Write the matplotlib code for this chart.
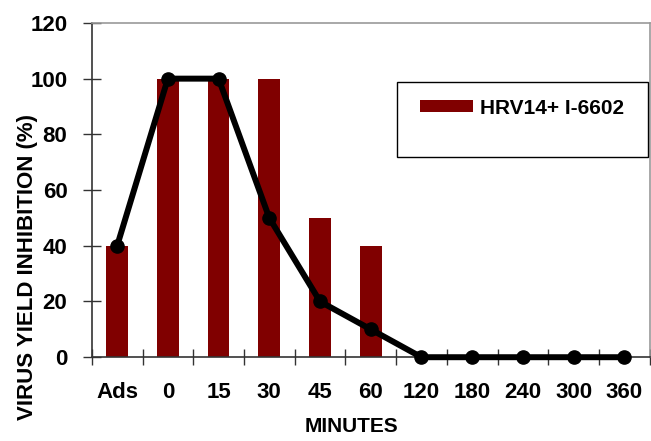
import numpy as np
import matplotlib.pyplot as plt
from matplotlib.patches import Rectangle

plt.rcParams['font.family'] = ['Liberation Sans', 'DejaVu Sans']
plt.rcParams['font.weight'] = 'bold'

minutes = ['Ads', '0', '15', '30', '45', '60', '120', '180', '240', '300', '360']
bar_vals = [40, 100, 100, 100, 50, 40, 0, 0, 0, 0, 0]
line_vals = [40, 100, 100, 50, 20, 10, 0, 0, 0, 0, 0]
y_ticks = [0, 20, 40, 60, 80, 100, 120]

fig = plt.figure(figsize=(6.51, 4.41), dpi=100)
ax = fig.add_axes([0.141, 0.19, 0.857, 0.758])

x = np.arange(len(minutes))
ax.bar(x, bar_vals, width=0.43, color='#800000', label='HRV14+ I-6602', zorder=2)
ax.plot(x, line_vals, color='black', lw=4.3, marker='o', ms=9.5, zorder=3,
        solid_joinstyle='round', clip_on=False)

ax.set_xlim(-0.5, len(minutes) - 0.5)
ax.set_ylim(0, 120)
ax.set_yticks(y_ticks)
ax.set_yticklabels([str(v) for v in y_ticks], fontsize=16, fontweight='bold')
ax.set_xticks(x)
ax.set_xticklabels(minutes, fontsize=16, fontweight='bold')
ax.tick_params(axis='x', length=0, pad=18)
# ticks between categories
ax.set_xticks(np.arange(len(minutes) + 1) - 0.5, minor=True)
ax.tick_params(axis='x', which='minor', direction='inout', length=11, width=1, color='#333333')
ax.tick_params(axis='y', direction='inout', length=13, width=1, color='#333333', pad=11)

for s in ['top', 'right']:
    ax.spines[s].set_color('#999999')
    ax.spines[s].set_linewidth(1.2)
for s in ['left', 'bottom']:
    ax.spines[s].set_color('#333333')
    ax.spines[s].set_linewidth(1.2)

ax.set_xlabel('MINUTES', fontsize=15, fontweight='bold')
ax.xaxis.set_label_coords(0.465, -0.178)
ax.set_ylabel('VIRUS YIELD INHIBITION (%)', fontsize=16, fontweight='bold')
ax.yaxis.set_label_coords(-0.097, 0.27)

# legend: box drawn separately so it can be taller than the entry
ax.add_patch(Rectangle((0.5474, 0.5988), 0.449, 0.2246, transform=ax.transAxes,
                       facecolor='white', edgecolor='black', lw=1.0, zorder=4))
leg = ax.legend(loc='center left', bbox_to_anchor=(0.5886, 0.7455), frameon=False,
                handlelength=2.53, handleheight=0.5, handletextpad=0.35,
                borderpad=0, borderaxespad=0, prop={'weight': 'bold', 'size': 15})
leg.set_zorder(5)

fig.savefig('out.png', dpi=100)
